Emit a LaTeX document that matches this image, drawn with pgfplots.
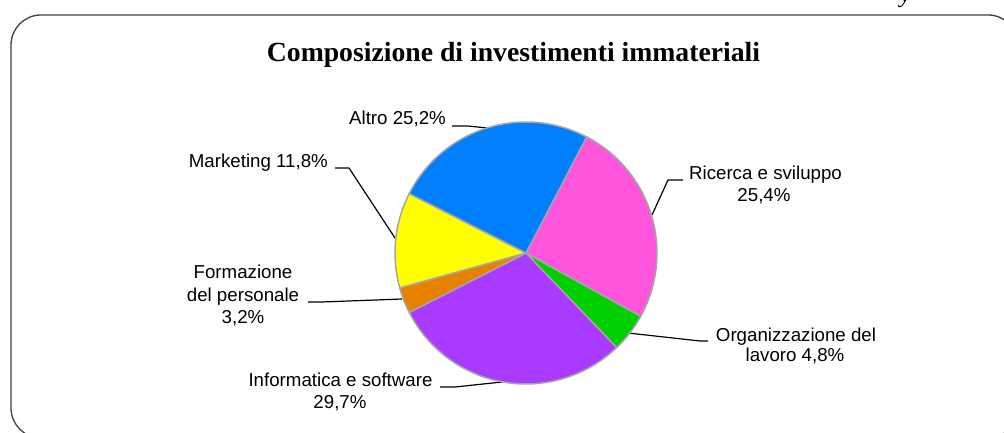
\documentclass[border=0pt]{standalone}
\usepackage{pgfplots}
\usepackage{pgfplotstable}
\pgfplotsset{compat=1.18}
\usepackage{fontspec}
\setmainfont{Liberation Sans}
\newfontfamily\serifbf{Liberation Serif}

\definecolor{cBlue}{RGB}{0,128,255}
\definecolor{cPink}{RGB}{255,85,221}
\definecolor{cGreen}{RGB}{0,208,0}
\definecolor{cPurple}{RGB}{170,58,255}
\definecolor{cOrange}{RGB}{232,128,0}
\definecolor{cYellow}{RGB}{255,255,0}
\definecolor{pieedge}{RGB}{166,166,166}
\definecolor{frame}{RGB}{64,64,64}

\pgfplotstableread{
value col
25.4 cPink
4.8 cGreen
29.7 cPurple
3.2 cOrange
11.8 cYellow
25.2 cBlue
}\piedata

\newcommand\lbl{\fontsize{18.7bp}{22bp}\selectfont}

\begin{document}
\begin{tikzpicture}
\clip (0,0) rectangle (1004bp,433bp);
\begin{axis}[at={(0,0)},anchor=south west,width=1004bp,height=433bp,scale only axis,
  xmin=0,xmax=1004,ymin=-433,ymax=0,hide axis,clip=false]
% frame
\draw[line width=1.3bp, color=frame, rounded corners=30bp] (axis cs:11,-15) rectangle (axis cs:1018,-438);
% header remnant
\node[anchor=base west, inner sep=0] at (axis cs:900,-2.5) {\fontsize{24bp}{28bp}\serifbf\itshape y};
% title
\node[anchor=base, inner sep=0] at (axis cs:513.5,-62) {\fontsize{27.7bp}{32bp}\selectfont\serifbf\bfseries Composizione di investimenti immateriali};
% leader lines
\draw[line width=1.2bp] (axis cs:452,-126) -- (axis cs:468,-126) -- (axis cs:487,-128);
\draw[line width=1.2bp] (axis cs:335,-168) -- (axis cs:349,-168) -- (axis cs:395,-238);
\draw[line width=1.2bp] (axis cs:683,-180) -- (axis cs:668,-180) -- (axis cs:652,-215);
\draw[line width=1.2bp] (axis cs:628,-333) -- (axis cs:700,-341) -- (axis cs:708,-341);
\draw[line width=1.2bp] (axis cs:308,-302) -- (axis cs:322,-302) -- (axis cs:402,-299);
\draw[line width=1.2bp] (axis cs:440,-387) -- (axis cs:455,-387) -- (axis cs:502,-382);
% pie
\pgfplotstablegetrowsof{\piedata}
\pgfmathtruncatemacro\lastrow{\pgfplotsretval-1}
\def\total{0}
\pgfplotsforeachungrouped \i in {0,...,\lastrow}{%
  \pgfplotstablegetelem{\i}{value}\of\piedata
  \pgfmathsetmacro\total{\total+\pgfplotsretval}%
}
\def\ang{62.4}
\pgfplotsforeachungrouped \i in {0,...,\lastrow}{%
  \pgfplotstablegetelem{\i}{value}\of\piedata
  \pgfmathsetmacro\endang{\ang-360*\pgfplotsretval/\total}%
  \pgfplotstablegetelem{\i}{col}\of\piedata
  \edef\temp{\noexpand\filldraw[fill=\pgfplotsretval, draw=pieedge, line width=1.5bp, line join=round] (axis cs:526,-253) -- ++(\ang:131bp) arc[start angle=\ang, end angle=\endang, radius=131bp] -- cycle;}%
  \temp
  \global\let\ang\endang
}
% labels
\node[anchor=base east, inner sep=0] at (axis cs:446,-125) {\lbl Altro 25,2\%};
\node[anchor=base east, inner sep=0] at (axis cs:328,-168) {\lbl Marketing 11,8\%};
\node[anchor=base, inner sep=0] at (axis cs:765.5,-180) {\lbl Ricerca e sviluppo};
\node[anchor=base, inner sep=0] at (axis cs:764,-202) {\lbl 25,4\%};
\node[anchor=base, inner sep=0] at (axis cs:796,-342) {\lbl Organizzazione del};
\node[anchor=base, inner sep=0] at (axis cs:795,-362) {\lbl lavoro 4,8\%};
\node[anchor=base, inner sep=0] at (axis cs:243,-279) {\lbl Formazione};
\node[anchor=base, inner sep=0] at (axis cs:243,-301.5) {\lbl del personale};
\node[anchor=base, inner sep=0] at (axis cs:243,-324) {\lbl 3,2\%};
\node[anchor=base, inner sep=0] at (axis cs:340.5,-387) {\lbl Informatica e software};
\node[anchor=base, inner sep=0] at (axis cs:340,-408) {\lbl 29,7\%};
\end{axis}
\end{tikzpicture}
\end{document}
